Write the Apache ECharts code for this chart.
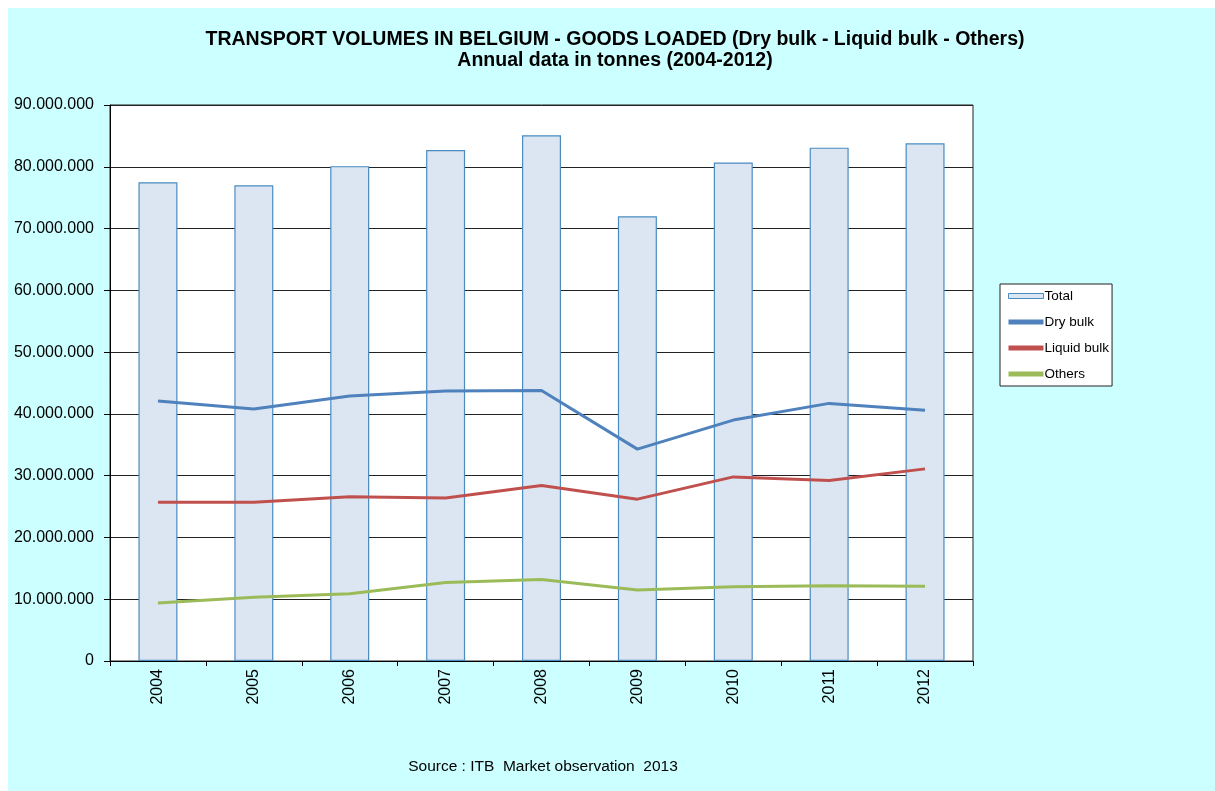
<!DOCTYPE html>
<html>
<head>
<meta charset="utf-8">
<script src="https://cdn.jsdelivr.net/npm/echarts@6/dist/echarts.min.js"></script>
<style>
  html, body { margin: 0; padding: 0; background: #ffffff; }
  #chart { width: 1215px; height: 791px; }
</style>
</head>
<body>
<div id="chart"></div>
<script>
// Goods loaded in Belgian ports, tonnes per year
const years = ['2004', '2005', '2006', '2007', '2008', '2009', '2010', '2011', '2012'];
const total = [77500000, 77000000, 80100000, 82700000, 85100000, 72000000, 80700000, 83100000, 83800000];
const dryBulk = [42100000, 40800000, 42900000, 43700000, 43800000, 34300000, 39000000, 41700000, 40600000];
const liquidBulk = [25700000, 25700000, 26600000, 26400000, 28400000, 26200000, 29800000, 29200000, 31100000];
const others = [9400000, 10300000, 10900000, 12700000, 13200000, 11500000, 12000000, 12200000, 12100000];

const FONT = '"Liberation Sans", Arial, sans-serif';

function fmtThousands(v) {
  return String(Math.round(v)).replace(/\B(?=(\d{3})+(?!\d))/g, '.');
}

const chart = echarts.init(document.getElementById('chart'), null, { renderer: 'canvas' });

chart.setOption({
  animation: false,
  backgroundColor: 'transparent',
  graphic: [
    {
      type: 'rect', z: -10, silent: true,
      shape: { x: 8, y: 8, width: 1207, height: 783 },
      style: { fill: '#CCFFFF' }
    },
    {
      type: 'text', silent: true, x: 615, y: 29,
      style: {
        text: 'TRANSPORT VOLUMES IN BELGIUM - GOODS LOADED (Dry bulk - Liquid bulk - Others)\nAnnual data in tonnes (2004-2012)',
        font: 'bold 19.5px ' + FONT, fill: '#000', align: 'center', verticalAlign: 'top', lineHeight: 21
      }
    },
    {
      type: 'text', silent: true, x: 543, y: 767,
      style: {
        text: 'Source : ITB  Market observation  2013',
        font: '15.5px ' + FONT, fill: '#000', align: 'center', verticalAlign: 'middle'
      }
    }
  ],
  grid: {
    left: 110, right: 242, top: 105, bottom: 130,
    show: true, backgroundColor: '#ffffff', borderColor: '#222', borderWidth: 1
  },
  legend: {
    orient: 'vertical',
    left: 1000, top: 284,
    padding: [5, 3, 5, 8],
    itemGap: 12,
    itemWidth: 35, itemHeight: 5,
    backgroundColor: '#ffffff',
    borderColor: '#222', borderWidth: 1,
    textStyle: { fontFamily: FONT, fontSize: 13.5, color: '#000', padding: [0, 0, 0, -4], lineHeight: 14 },
    data: [
      { name: 'Total', icon: 'rect', itemStyle: { color: '#DCE6F2', borderColor: '#4A8CC0', borderWidth: 1 } },
      { name: 'Dry bulk', icon: 'rect', itemStyle: { color: '#4F81BD' } },
      { name: 'Liquid bulk', icon: 'rect', itemStyle: { color: '#C0504D' } },
      { name: 'Others', icon: 'rect', itemStyle: { color: '#9BBB59' } }
    ]
  },
  xAxis: {
    type: 'category',
    data: years,
    boundaryGap: true,
    axisLine: { lineStyle: { color: '#000', width: 1 } },
    axisTick: { show: true, inside: false, length: 5, lineStyle: { color: '#000' } },
    axisLabel: {
      rotate: 90, fontFamily: FONT, fontSize: 16, color: '#000', margin: 8
    },
    splitLine: { show: false }
  },
  yAxis: {
    type: 'value',
    min: 0, max: 90000000, interval: 10000000,
    axisLine: { show: true, lineStyle: { color: '#000', width: 1 } },
    axisTick: { show: true, inside: false, length: 6, lineStyle: { color: '#000' } },
    axisLabel: {
      fontFamily: FONT, fontSize: 16, color: '#000', margin: 16,
      formatter: fmtThousands
    },
    splitLine: { show: true, lineStyle: { color: '#222', width: 1 } }
  },
  series: [
    {
      name: 'Total', type: 'bar', data: total, barWidth: 39,
      itemStyle: { color: '#DCE6F2', borderColor: '#4A8CC0', borderWidth: 1.2 },
      z: 2
    },
    {
      name: 'Dry bulk', type: 'line', data: dryBulk, symbol: 'none',
      lineStyle: { color: '#4F81BD', width: 3 }, itemStyle: { color: '#4F81BD' }, z: 3
    },
    {
      name: 'Liquid bulk', type: 'line', data: liquidBulk, symbol: 'none',
      lineStyle: { color: '#C0504D', width: 3 }, itemStyle: { color: '#C0504D' }, z: 3
    },
    {
      name: 'Others', type: 'line', data: others, symbol: 'none',
      lineStyle: { color: '#9BBB59', width: 3 }, itemStyle: { color: '#9BBB59' }, z: 3
    }
  ]
});
</script>
</body>
</html>
